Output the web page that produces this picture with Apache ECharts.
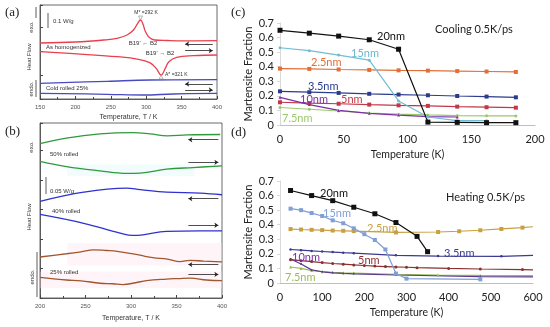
<!DOCTYPE html>
<html><head><meta charset="utf-8">
<script src="https://cdn.jsdelivr.net/npm/echarts@6/dist/echarts.min.js"></script>
<style>html,body{margin:0;padding:0;background:#fff}#c{width:550px;height:327px}</style>
</head><body><div id="c"></div>
<script>
// ---------- Panel (a): DSC, [T (K), heat flow (a.u.)] ----------
const aHomCool  = [[150,56],[200,57],[240,59],[259,60.7],[273,64],[282,69],[288,75.7],[292,79],[295,75.7],[299,67.3],[304,61.7],[312,59],[330,58.5],[352,58.2],[400,58.3]];
const aHomHeat  = [[150,47.3],[212,44.7],[259,42.3],[289,39.7],[305,36.3],[314,30.7],[321,24],[327,30.7],[332,37.3],[343,41.7],[367,43.3],[400,44]];
const aColdCool = [[150,15.7],[245,17.7],[306,19],[400,19.3]];
const aColdHeat = [[150,5.7],[245,4.7],[296,4],[338,5],[400,5.7]];
// ---------- Panel (b): DSC ----------
const b50Cool = [[200,157],[229,162.7],[266,167],[302,168.3],[321,167],[340,165],[362,166],[398,166.3]];
const b50Heat = [[200,139],[229,133.7],[266,129.3],[295,126.7],[310,127],[339,131],[368,132.7],[400,134.3]];
const b40Cool = [[200,98.3],[248,107.7],[295,111.7],[310,110.3],[339,107.7],[376,106.7],[400,105]];
const b40Heat = [[200,85],[248,76],[288,66],[302,63.7],[313,64.3],[339,67.7],[376,68.3],[400,68.3]];
const b25Cool = [[200,41.7],[229,45],[245,47],[259,49],[273,48.3],[285,47.5],[295,46],[310,43.5],[324,41],[340,39.5],[354,37],[365,38.3],[380,37.5],[400,36.7]];
const b25Heat = [[200,21],[215,19.5],[229,18.3],[245,17.5],[266,15],[280,14.5],[291,13.7],[305,15.5],[317,17.7],[339,19.3],[352,19.8],[365,20.3],[383,18.3],[400,17.7]];
// ---------- Panel (c): cooling, martensite fraction ----------
const cT     = [0, 23, 46, 70, 93, 116, 139, 162, 185];
const c20nm  = [0.65, 0.63, 0.61, 0.585, 0.52, 0.02, 0.018, 0.016, 0.016];
const c15nm  = [0.53, 0.51, 0.48, 0.445, 0.165, 0.055, 0.03, 0.03];
const c2_5nm = [0.387, 0.385, 0.381, 0.378, 0.375, 0.373, 0.37, 0.367, 0.364];
const c3_5nm = [0.231, 0.225, 0.22, 0.214, 0.209, 0.204, 0.199, 0.195, 0.19];
const c5nm   = [0.156, 0.15, 0.146, 0.14, 0.135, 0.131, 0.126, 0.122, 0.119];
const c10nm  = [0.19, 0.14, 0.1, 0.08, 0.068, 0.058, 0.055];
const c7_5nm = [0.12, 0.108, 0.096, 0.082, 0.074, 0.069, 0.065, 0.063, 0.062];
// ---------- Panel (d): heating ----------
const d20T   = [25, 75, 125, 175, 225, 275, 325, 350];
const d20nm  = [0.635, 0.6, 0.565, 0.52, 0.475, 0.415, 0.32, 0.215];
const d15T   = [25, 50, 75, 100, 125, 150, 175, 200, 225, 250, 275, 300, 475];
const d15nm  = [0.51, 0.5, 0.48, 0.46, 0.43, 0.41, 0.375, 0.335, 0.295, 0.23, 0.065, 0.03, 0.025];
const d2_5T  = [25, 50, 75, 100, 125, 150, 175, 275, 375, 425, 475, 525, 575, 600];
const d2_5nm = [0.37, 0.367, 0.365, 0.363, 0.36, 0.358, 0.356, 0.347, 0.35, 0.355, 0.362, 0.371, 0.38, 0.386];
const d3_5T  = [25, 50, 75, 100, 125, 150, 175, 275, 375, 525, 600];
const d3_5nm = [0.23, 0.225, 0.22, 0.216, 0.212, 0.208, 0.205, 0.19, 0.185, 0.183, 0.19];
const d5T    = [25, 50, 75, 100, 125, 150, 175, 200, 225, 250, 275, 300, 325, 400, 475, 575, 600];
const d5nm   = [0.16, 0.153, 0.147, 0.14, 0.134, 0.129, 0.124, 0.12, 0.116, 0.113, 0.11, 0.108, 0.105, 0.1, 0.096, 0.092, 0.09];
const d10T   = [25, 50, 75, 100, 125, 150, 175, 275, 475, 600];
const d10nm  = [0.165, 0.13, 0.09, 0.077, 0.07, 0.066, 0.063, 0.055, 0.044, 0.042];
const d7_5T  = [25, 50, 75, 100, 125, 150, 175, 275, 375, 475, 600];
const d7_5nm = [0.11, 0.1, 0.085, 0.078, 0.073, 0.07, 0.068, 0.06, 0.055, 0.052, 0.05];

const zip = (xs, ys, openEnd) => ys.map((y, i) => (openEnd && i === ys.length - 1) ? {value: [xs[i], y], symbol: 'none'} : [xs[i], y]);

const SANS = 'Liberation Sans';
const CAL = 'Lato';

function dsc(name, data, color, xi, arrow, extra) {
  const s = {
    type: 'line', name, data, xAxisIndex: xi, yAxisIndex: xi, smooth: 0.4, showSymbol: false,
    lineStyle: {color, width: 1.3}, itemStyle: {color}, silent: true, z: 3
  };
  if (arrow) {
    s.markLine = {silent: true, symbol: ['none', 'arrow'], symbolSize: 4, label: {show: false},
      lineStyle: {color: '#222', width: 0.8, type: 'solid'}, data: [arrow]};
  }
  return Object.assign(s, extra || {});
}
function frac(name, data, color, xi, sym, size, extra) {
  return Object.assign({
    type: 'line', name, data, xAxisIndex: xi, yAxisIndex: xi, symbol: sym, symbolSize: size,
    showSymbol: true, lineStyle: {color, width: 1.2}, itemStyle: {color}, silent: true, z: 3
  }, extra || {});
}
const arL = (x1, x2, y) => [{coord: [x2, y]}, {coord: [x1, y]}];
const arR = (x1, x2, y) => [{coord: [x1, y]}, {coord: [x2, y]}];

const dscX = (gi, min, max, gap) => ({
  type: 'value', gridIndex: gi, min, max, interval: 50,
  axisLine: {show: true, lineStyle: {color: '#444', width: 0.8}},
  axisTick: {show: true, inside: true, length: 3, lineStyle: {color: '#444'}},
  minorTick: {show: true, splitNumber: 2, length: 2, lineStyle: {color: '#444'}},
  axisLabel: {fontSize: 6, fontFamily: SANS, color: '#555', margin: 5},
  splitLine: {show: false},
  name: 'Temperature, T / K', nameLocation: 'middle', nameGap: gap,
  nameTextStyle: {fontSize: 7, fontFamily: SANS, color: '#333'}
});
const dscY = (gi, max, iv) => ({
  type: 'value', gridIndex: gi, min: 0, max, interval: iv,
  axisLine: {show: true, lineStyle: {color: '#444', width: 0.8}},
  axisTick: {show: true, inside: true, length: 3, lineStyle: {color: '#444'}},
  axisLabel: {show: false}, splitLine: {show: false}
});
const fracX = (gi, max, iv) => ({
  type: 'value', gridIndex: gi, min: 0, max, interval: iv,
  axisLine: {show: true, lineStyle: {color: '#bfbfbf', width: 1}},
  axisTick: {show: false},
  axisLabel: {fontSize: 11, fontFamily: CAL, color: '#222', margin: 9},
  splitLine: {show: false},
  name: 'Temperature (K)', nameLocation: 'middle', nameGap: 24,
  nameTextStyle: {fontSize: 10.5, fontFamily: CAL, color: '#222'}
});
const fracY = (gi) => ({
  type: 'value', gridIndex: gi, min: 0, max: 0.7, interval: 0.1,
  axisLine: {show: true, lineStyle: {color: '#d9d9d9', width: 1}},
  axisTick: {show: true, length: 3, lineStyle: {color: '#d9d9d9'}},
  axisLabel: {fontSize: 11, fontFamily: CAL, color: '#222', margin: 6,
    formatter: v => (Math.abs(v) < 1e-9 ? '0' : v.toFixed(1))},
  splitLine: {show: false},
  name: 'Martensite Fraction', nameLocation: 'middle', nameGap: 26,
  nameTextStyle: {fontSize: 11, fontFamily: CAL, color: '#222'}
});

const T = (text, x, y, style, align, rot) => ({
  type: 'text', x, y, rotation: rot || 0, silent: true, z: 10,
  style: Object.assign({text, textAlign: align || 'left', textVerticalAlign: 'middle'}, style)
});
const L = (x1, y1, x2, y2, c, w) => ({type: 'line', silent: true, z: 10,
  shape: {x1, y1, x2, y2}, style: {stroke: c || '#333', lineWidth: w || 0.8}});
const panelLbl = {fontSize: 13, fontFamily: 'Liberation Serif', fill: '#222'};
const lab = (c) => ({fontSize: 11, fontFamily: CAL, fill: c});
const sm = {fontSize: 6, fontFamily: SANS, fill: '#333'};

const chart = echarts.init(document.getElementById('c'), null, {renderer: 'canvas'});
chart.setOption({
  animation: false,
  backgroundColor: '#fff',
  grid: [
    {left: 40, top: 5, width: 177, height: 94, show: true, borderColor: '#444', borderWidth: 0.8, backgroundColor: 'transparent'},
    {left: 40, top: 123, width: 182, height: 178, show: true, borderColor: '#444', borderWidth: 0.8, backgroundColor: 'transparent'},
    {left: 280, top: 23, width: 255, height: 102},
    {left: 280, top: 181, width: 253, height: 102}
  ],
  xAxis: [dscX(0, 150, 400, 15), dscX(1, 200, 400, 17), fracX(2, 200, 50), fracX(3, 600, 100)],
  yAxis: [dscY(0, 94, 24), dscY(1, 178, 30), fracY(2), fracY(3)],
  series: [
    dsc('hom cool', aHomCool, '#e8404e', 0, arL(355, 394, 55), {
      markPoint: {silent: true, symbol: 'triangle', symbolSize: 4, symbolRotate: 180,
        itemStyle: {color: '#fff', borderColor: '#888', borderWidth: 0.6}, label: {show: false},
        data: [{coord: [292, 81]}]}}),
    dsc('hom heat', aHomHeat, '#e8404e', 0, arR(355, 394, 48.3), {
      markPoint: {silent: true, symbol: 'triangle', symbolSize: 4,
        itemStyle: {color: '#fff', borderColor: '#888', borderWidth: 0.6}, label: {show: false},
        data: [{coord: [321, 22]}]}}),
    dsc('cold cool', aColdCool, '#4a4ac0', 0, arL(355, 394, 15)),
    dsc('cold heat', aColdHeat, '#4a4ac0', 0, arR(355, 394, 9)),
    dsc('50 cool', b50Cool, '#2e9a3c', 1, arL(363, 396, 161)),
    dsc('50 heat', b50Heat, '#2e9a3c', 1, arR(363, 396, 138), {
      markArea: {silent: true, itemStyle: {color: 'rgba(215,245,245,0.3)'}, data: [[{coord: [230, 136]}, {coord: [370, 124]}]]}}),
    dsc('40 cool', b40Cool, '#3030d0', 1, arL(363, 396, 101)),
    dsc('40 heat', b40Heat, '#3030d0', 1, arR(363, 396, 74)),
    dsc('25 cool', b25Cool, '#a0562e', 1, arL(363, 396, 34), {
      markArea: {silent: true, itemStyle: {color: 'rgba(255,225,238,0.35)'}, data: [[{coord: [230, 56]}, {coord: [400, 33]}]]}}),
    dsc('25 heat', b25Heat, '#a0562e', 1, arR(363, 396, 24), {
      markArea: {silent: true, itemStyle: {color: 'rgba(255,225,238,0.35)'}, data: [[{coord: [200, 27]}, {coord: [400, 10]}]]}}),
    // panel c
    frac('c 7.5nm', zip(cT, c7_5nm), '#9cc86c', 2, 'circle', 3),
    frac('c 5nm', zip(cT, c5nm), '#c23848', 2, 'rect', 4),
    frac('c 10nm', zip(cT, c10nm), '#7a2fa8', 2, 'triangle', 3),
    frac('c 3.5nm', zip(cT, c3_5nm), '#2b3c8c', 2, 'rect', 4),
    frac('c 2.5nm', zip(cT, c2_5nm), '#e07038', 2, 'rect', 4),
    frac('c 15nm', zip(cT, c15nm), '#72bcd4', 2, 'circle', 3),
    frac('c 20nm', zip(cT, c20nm), '#111111', 2, 'rect', 5),
    // panel d
    frac('d 7.5nm', zip(d7_5T, d7_5nm, true), '#9bbb59', 3, 'triangle', 3),
    frac('d 10nm', zip(d10T, d10nm, true), '#5a3a8a', 3, 'circle', 2),
    frac('d 5nm', zip(d5T, d5nm, true), '#8b3030', 3, 'circle', 3),
    frac('d 3.5nm', zip(d3_5T, d3_5nm, true), '#3a3a90', 3, 'circle', 2.5),
    frac('d 2.5nm', zip(d2_5T, d2_5nm, true), '#c8a040', 3, 'rect', 4),
    frac('d 15nm', zip(d15T, d15nm), '#7f9fd6', 3, 'rect', 4),
    frac('d 20nm', zip(d20T, d20nm), '#111111', 3, 'rect', 5)
  ],
  graphic: [
    T('(a)', 5, 13, panelLbl), T('(b)', 5, 132, panelLbl),
    T('(c)', 231, 13, panelLbl), T('(d)', 231, 133, panelLbl),
    // panel a
    L(48, 13, 48, 28), T('0.1 W/g', 53, 21, sm),
    T('As homogenized', 46, 47, sm), T('Cold rolled 25%', 46, 88, sm),
    T('M* =292 K', 146, 13, {fontSize: 5, fontFamily: SANS, fill: '#333'}, 'center'),
    T("B19' \u2190 B2", 143, 43, sm, 'center'),
    T("B19' \u2192 B2", 160, 53, sm, 'center'),
    T('A* =321 K', 165, 75, {fontSize: 5, fontFamily: SANS, fill: '#333'}),
    T('Heat Flow', 29, 57, sm, 'center', Math.PI / 2),
    T('exo.', 31, 27, sm, 'center', Math.PI / 2),
    T('endo.', 31, 89, sm, 'center', Math.PI / 2),
    L(36, 7, 36, 18), L(36, 80, 36, 97),
    // panel b
    T('exo.', 31, 147, sm, 'center', Math.PI / 2),
    T('50% rolled', 50, 154, sm),
    L(46, 177, 46, 194), T('0.05 W/g', 50, 191, sm),
    T('40% rolled', 52, 211, sm),
    T('Heat Flow', 29, 217, sm, 'center', Math.PI / 2),
    T('25% rolled', 50, 272, sm),
    T('endo.', 32, 277, sm, 'center', Math.PI / 2),
    L(37, 252, 37, 297),
    // panel c
    T('Cooling 0.5K/ps', 435, 29, lab('#222')),
    T('20nm', 377, 36, lab('#111')), T('15nm', 351, 53, lab('#6ab8d2')),
    T('2.5nm', 311, 62, lab('#e07038')), T('3.5nm', 308, 86, lab('#2b3c8c')),
    T('10nm', 300, 99, lab('#7a2fa8')), T('5nm', 341, 99, lab('#c23848')),
    T('7.5nm', 282, 118, lab('#9cc86c')),
    // panel d
    T('Heating 0.5K/ps', 446, 197, lab('#222')),
    T('20nm', 320, 193, lab('#111')), T('15nm', 323, 213, lab('#7f9fd6')),
    T('2.5nm', 367, 228, lab('#c8a040')), T('3.5nm', 444, 253, lab('#3a3a90')),
    T('10nm', 292, 257, lab('#7a2fa8')), T('5nm', 358, 260, lab('#8b3030')),
    T('7.5nm', 285, 277, lab('#9bbb59'))
  ]
});
</script></body></html>
